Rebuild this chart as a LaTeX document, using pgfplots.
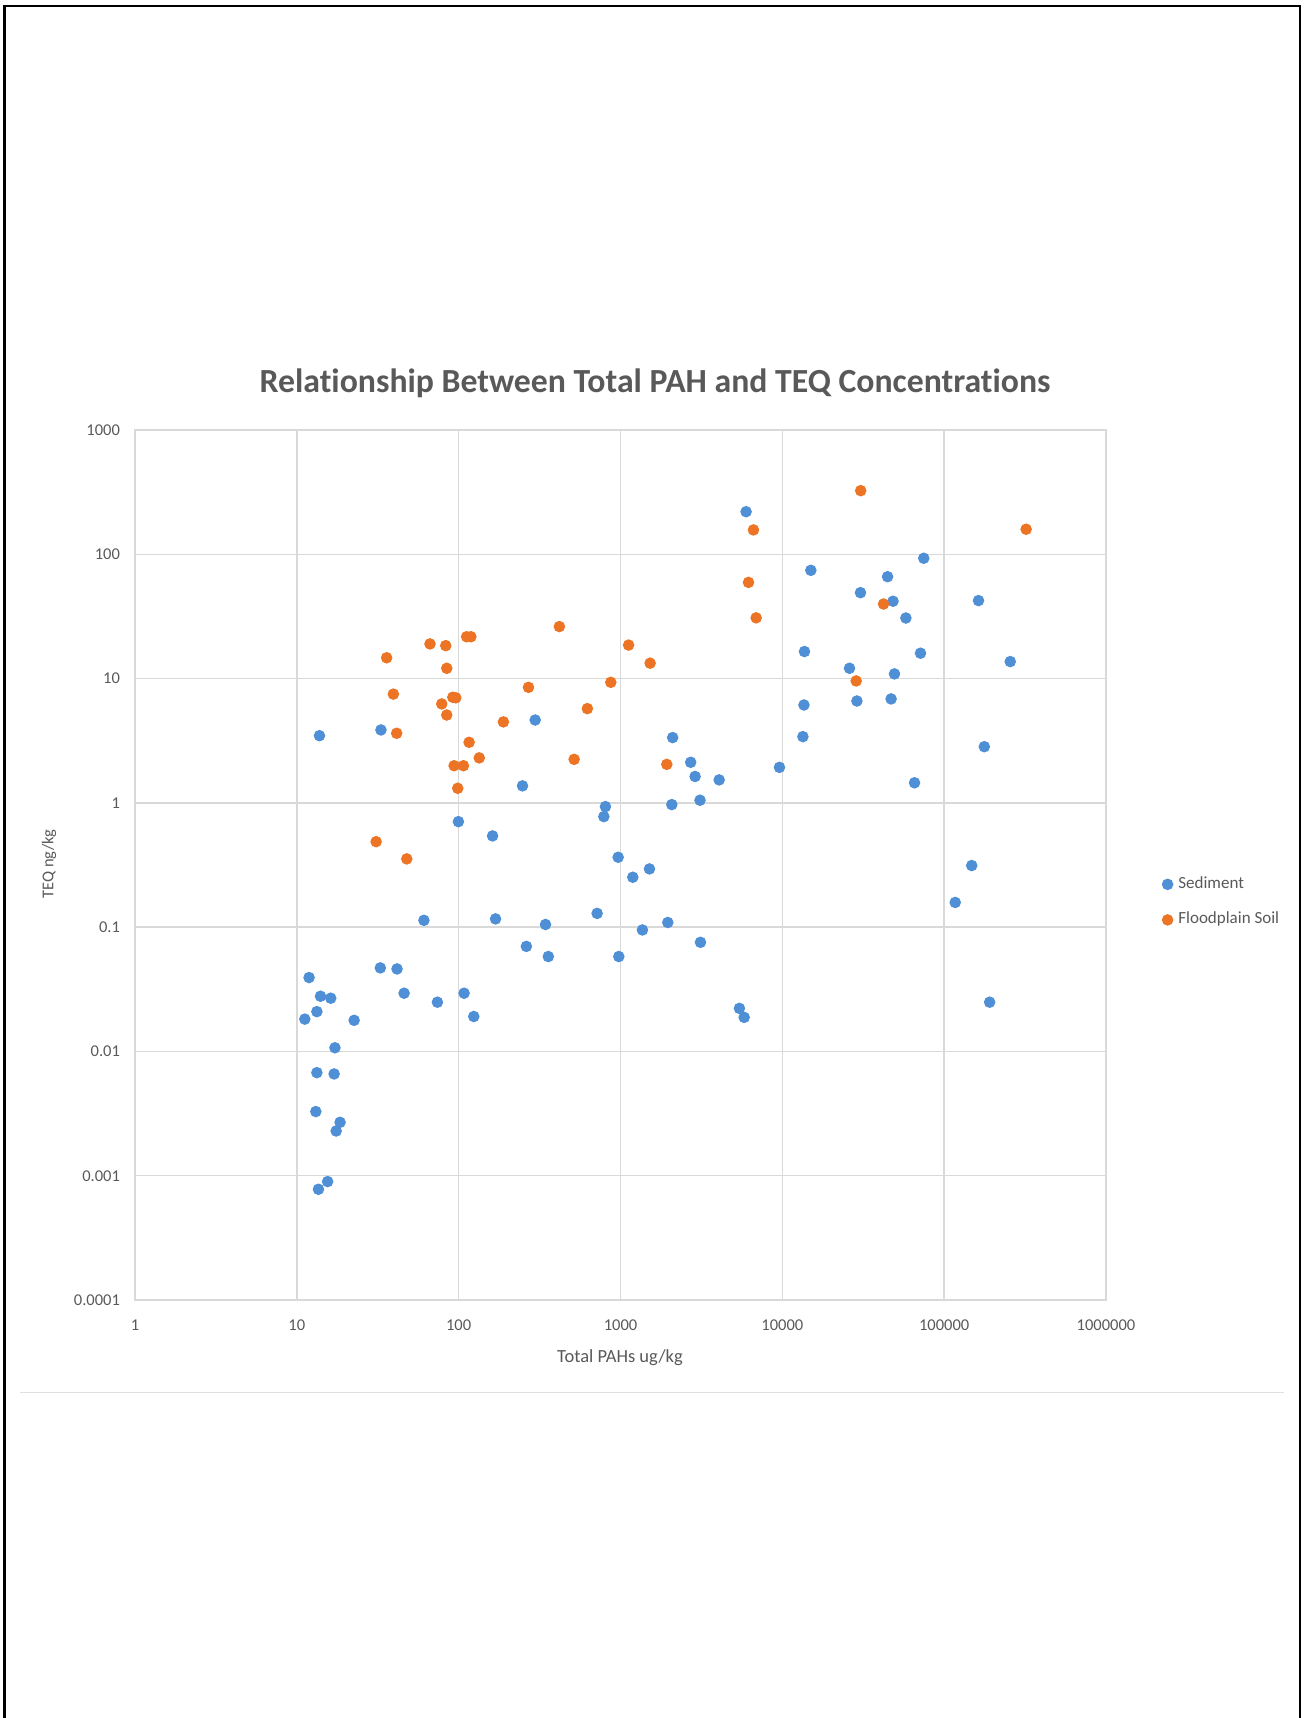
\documentclass[border=0pt]{standalone}
\usepackage{pgfplots}
\pgfplotsset{compat=1.18}
\usepackage{fontspec}
\setmainfont{Carlito}[Ligatures=NoCommon]
\definecolor{sedblue}{HTML}{4F8FD6}
\definecolor{soilorange}{HTML}{EC7424}
\definecolor{txtgray}{HTML}{595959}
\definecolor{gridgray}{HTML}{D9D9D9}
\begin{document}
\begin{tikzpicture}
\path[use as bounding box] (0,0) rectangle (522.4pt,687.2pt);
% page frame
\draw[line width=1pt,black] (1.8pt,0) -- (1.8pt,684.8pt) -- (520pt,684.8pt) -- (520pt,0);
\draw[line width=0.4pt,gray!25] (8pt,130pt) -- (513.6pt,130pt);
% title
\node[font=\fontsize{13.5}{15}\selectfont\bfseries,text=txtgray] at (262pt,534pt) {Relationship Between Total PAH and TEQ Concentrations};
\node[font=\fontsize{7.4}{9}\selectfont,text=txtgray] at (248pt,144.2pt) {Total PAHs ug/kg};
\node[font=\fontsize{6.6}{8}\selectfont,text=txtgray,rotate=90] at (19.6pt,341.6pt) {TEQ ng/kg};
\begin{axis}[
  at={(54pt,167.2pt)}, anchor=south west,
  scale only axis, width=388.4pt, height=348pt,
  xmode=log, ymode=log,
  xmin=1, xmax=1000000, ymin=0.0001, ymax=1000,
  xtick={1,10,100,1000,10000,100000,1000000},
  xticklabels={1,10,100,1000,10000,100000,1000000},
  ytick={0.0001,0.001,0.01,0.1,1,10,100,1000},
  yticklabels={0.0001,0.001,0.01,0.1,1,10,100,1000},
  minor xtick={}, minor ytick={},
  major tick length=0pt, minor tick length=0pt,
  grid=major,
  major grid style={draw=gridgray,line width=0.6pt},
  axis line style={draw=gridgray,line width=0.6pt},
  tick label style={font=\fontsize{6.6}{8}\selectfont,text=txtgray},
  xticklabel style={yshift=-4.5pt},
  yticklabel style={xshift=-2.5pt},
  clip=false,
  legend style={at={(1.057,0.493)},anchor=north west,draw=none,fill=none,
    font=\fontsize{6.8}{8}\selectfont,text=txtgray,row sep=4.0pt,
    inner sep=0pt},
  legend cell align=left,
  legend image code/.code={\fill[#1] (0.1cm,0cm) circle (2.1pt);},
]
\addplot[only marks, mark=*, mark size=2.1pt, color=sedblue] coordinates {
(13.8,3.47) (33.1,3.86) (297,4.64) (248,1.37) (99.6,0.706) (162,0.542)
(61,0.1135) (169,0.1165) (344,0.105) (262,0.070) (358,0.058)
(11.9,0.0393) (14,0.0278) (16.2,0.0268) (13.3,0.0209) (11.2,0.0182) (22.6,0.0178)
(32.8,0.047) (41.6,0.0461) (46,0.0294) (73.9,0.0249) (108,0.0294) (124,0.0191)
(17.2,0.0107) (13.3,0.00675) (17,0.00659) (13.1,0.00328) (18.5,0.00269) (17.5,0.00229)
(15.5,0.000897) (13.6,0.000778)
(5970,220) (15000,74.3) (44700,66) (30400,49.1) (48300,41.9) (58000,30.7)
(13700,16.5) (26000,12.1) (49300,10.9) (28900,6.6) (47000,6.86) (13600,6.13)
(13400,3.41) (65600,1.45) (2100,3.35) (2715,2.12) (2890,1.63) (4070,1.53)
(9600,1.93) (2075,0.968) (3100,1.05) (807,0.933) (789,0.775) (967,0.365)
(1510,0.294) (1191,0.252) (717,0.129) (1366,0.0949) (1960,0.109) (3120,0.0755)
(976,0.058) (5430,0.0222) (5810,0.0188) (74800,92.9) (163000,42.4) (256000,13.7)
(71400,16.0) (177000,2.83) (148000,0.313) (117000,0.158) (191000,0.0249)
};
\addlegendentry{Sediment}
\addplot[only marks, mark=*, mark size=2.1pt, color=soilorange] coordinates {
(35.9,14.7) (39.5,7.5) (41.4,3.63) (66.5,19.0) (83.2,18.4) (84.4,12.1)
(78.6,6.25) (84.4,5.09) (92,7.07) (96,7.0) (112,21.7) (119,21.7)
(270,8.5) (189,4.48) (116,3.07) (134,2.30) (93.7,1.99) (107,1.99)
(98.7,1.31) (30.9,0.487) (47.8,0.354) (30500,325) (6630,157) (6180,59.4)
(6890,30.8) (42200,39.8) (28600,9.57) (419,26.2) (1122,18.6) (1524,13.3)
(871,9.33) (624,5.73) (517,2.24) (1932,2.04) (321000,159)
};
\addlegendentry{Floodplain Soil}
\end{axis}
\end{tikzpicture}
\end{document}
